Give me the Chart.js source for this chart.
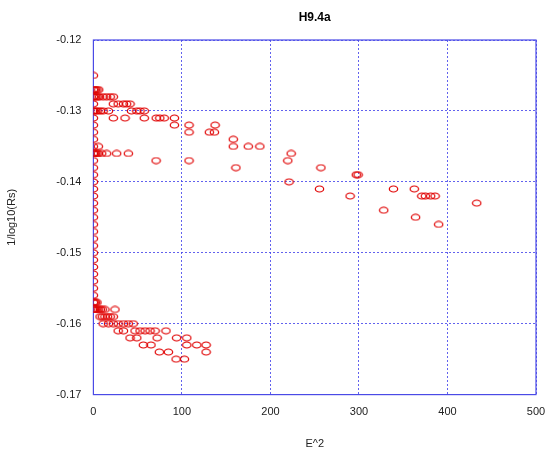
<!DOCTYPE html>
<html>
<head>
<meta charset="utf-8">
<script src="https://cdn.jsdelivr.net/npm/chart.js@4/dist/chart.umd.min.js"></script>
<style>
  html, body { margin: 0; padding: 0; background: #fff; }
  #wrap { width: 546px; height: 455px; }
</style>
</head>
<body>
<div id="wrap"><canvas id="chart" width="546" height="455"></canvas></div>
<script>
// values
const xTicks = [0, 100, 200, 300, 400, 500];
const yTicks = [-0.17, -0.16, -0.15, -0.14, -0.13, -0.12];

// points sitting on the E^2 = 0 line
const zeroColumn = [
    -0.125, -0.127, -0.128, -0.129, -0.130, -0.131, -0.132, -0.133, -0.134,
    -0.135, -0.136, -0.137, -0.138, -0.139, -0.140, -0.141, -0.142, -0.143,
    -0.144, -0.145, -0.146, -0.147, -0.148, -0.149, -0.150, -0.151, -0.152,
    -0.153, -0.154, -0.155, -0.156, -0.157, -0.158
];

// the other points, grouped by their 1/log10(Rs) level
const levels = [
    -0.127, -0.128, -0.129, -0.130, -0.131, -0.132, -0.133, -0.134, -0.135,
    -0.136, -0.137, -0.138, -0.139, -0.140, -0.141, -0.142, -0.143, -0.144,
    -0.145, -0.146, -0.157, -0.158, -0.159, -0.160, -0.161, -0.162, -0.163,
    -0.164, -0.165
];
const e2AtLevel = [
    [1, 2.5, 4, 6],
    [1, 3, 5, 7, 11, 15, 19, 22.5],
    [22.5, 28, 34, 37.6, 41.4],
    [1, 3, 5, 8, 11, 17, 43, 49, 52.7, 57.5],
    [22.5, 35.7, 57.5, 71, 75, 80, 91.5],
    [91.5, 108, 137.5],
    [108, 131, 136.7],
    [158],
    [5.6, 158, 175, 188],
    [1, 2.5, 4, 5.6, 9.4, 15, 26.3, 39.5, 223.4],
    [70.8, 108, 219.6],
    [161, 257],
    [297, 299],
    [221],
    [255.4, 339, 362.5],
    [290, 371, 375, 381, 386],
    [433],
    [328],
    [364],
    [390],
    [1, 2.5, 4],
    [1, 2.5, 4, 6, 8, 10, 13, 24.4],
    [7.5, 10, 13, 16, 19, 22.5],
    [11, 17, 22.5, 28, 34, 39.5, 45],
    [28, 34, 47, 52.7, 58.4, 64, 69.7, 82],
    [41.4, 49, 72, 94, 105.5],
    [56.4, 65, 105.5, 116.8, 127.3],
    [74.5, 84.7, 127.3],
    [93.4, 102.8]
];

const points = zeroColumn.map(y => ({ x: 0, y: y }));
levels.forEach((y, i) => {
    e2AtLevel[i].forEach(x => points.push({ x: x, y: y }));
});

// hollow red ellipse used as marker
const marker = document.createElement('canvas');
marker.width = 11;
marker.height = 8;
const mctx = marker.getContext('2d');
mctx.strokeStyle = '#e00000';
mctx.lineWidth = 1.2;
mctx.beginPath();
mctx.ellipse(5.5, 4, 4.2, 3, 0, 0, Math.PI * 2);
mctx.stroke();

const BLUE = '#4a4ae6';
const GRID = 'rgba(70,70,235,0.85)';
const FONT = 'Liberation Sans, Arial, sans-serif';

// solid frame round the plot area
const framePlugin = {
    id: 'frame',
    beforeDatasetsDraw(chart) {
        const { ctx, chartArea: a } = chart;
        ctx.save();
        ctx.strokeStyle = BLUE;
        ctx.lineWidth = 1.2;
        ctx.strokeRect(a.left, a.top, a.right - a.left, a.bottom - a.top);
        ctx.restore();
    }
};

new Chart(document.getElementById('chart'), {
    type: 'scatter',
    data: {
        datasets: [{
            data: points,
            pointStyle: marker,
            pointRadius: 5,
        }]
    },
    options: {
        responsive: false,
        animation: false,
        events: [],
        layout: { padding: { left: 0, right: 0, top: 0, bottom: 0 } },
        plugins: {
            legend: { display: false },
            tooltip: { enabled: false },
            title: {
                display: true,
                text: 'H9.4a',
                fullSize: false,
                color: '#000',
                font: { family: FONT, size: 12, weight: 'bold' },
                padding: { top: 10, bottom: 15.6 }
            }
        },
        scales: {
            x: {
                type: 'linear',
                min: 0,
                max: 500,
                afterBuildTicks: s => { s.ticks = xTicks.map(v => ({ value: v })); },
                afterFit: s => { s.height = 60.4; s.paddingRight = 10; },
                ticks: {
                    color: '#222',
                    padding: 11,
                    font: { family: FONT, size: 11 }
                },
                grid: { color: GRID, drawTicks: false, lineWidth: 1 },
                border: { display: false, dash: [2, 2] },
                title: {
                    display: true,
                    text: 'E^2',
                    color: '#222',
                    font: { family: FONT, size: 11 },
                    padding: { top: 0, bottom: 4 }
                }
            },
            y: {
                type: 'linear',
                min: -0.17,
                max: -0.12,
                afterBuildTicks: s => { s.ticks = yTicks.map(v => ({ value: v })); },
                afterFit: s => { s.width = 93.4; },
                ticks: {
                    color: '#222',
                    padding: 12,
                    font: { family: FONT, size: 11 },
                    callback: v => v.toFixed(2)
                },
                grid: { color: GRID, drawTicks: false, lineWidth: 1 },
                border: { display: false, dash: [2, 2] },
                title: {
                    display: true,
                    text: '1/log10(Rs)',
                    color: '#222',
                    font: { family: FONT, size: 11 },
                    padding: { top: 5, bottom: 0 }
                }
            }
        }
    },
    plugins: [framePlugin]
});
</script>
</body>
</html>
